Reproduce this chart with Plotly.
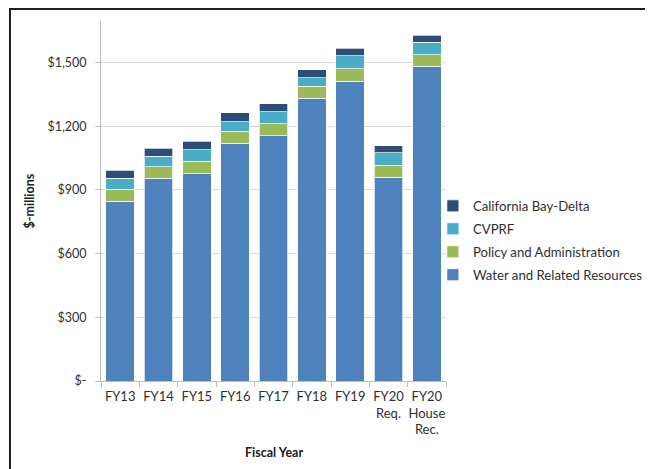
import plotly.graph_objects as go

categories = ["FY13", "FY14", "FY15", "FY16", "FY17", "FY18", "FY19", "FY20<br>Req.", "FY20<br>House<br>Rec."]
water = [846, 954, 977, 1119, 1155, 1332, 1411, 960, 1482]
policy = [56, 56, 57, 56, 56, 56, 60, 55, 55]
cvprf = [52, 48, 56, 47, 58, 41, 61, 60, 58]
baydelta = [38, 37, 38, 42, 36, 37, 36, 33, 34]
ytick_vals = [0, 300, 600, 900, 1200, 1500]
ytick_text = ["$-", "$300", "$600", "$900", "$1,200", "$1,500"]

series = [
    ("Water and Related Resources", water, "#4F81BD"),
    ("Policy and Administration", policy, "#9BBB59"),
    ("CVPRF", cvprf, "#4BACC6"),
    ("California Bay-Delta", baydelta, "#2C4D75"),
]

font = "Lato"
fig = go.Figure()
n = len(series)
for i, (name, vals, color) in enumerate(series):
    fig.add_trace(go.Bar(
        x=categories, y=vals, name=name, legendgroup="g%d" % i, legendrank=1000 + (n - i),
        marker=dict(color=color, line=dict(color="rgba(255,255,255,0.7)", width=1)),
    ))

fig.update_layout(
    barmode="stack",
    bargap=0.26,
    width=645, height=461,
    margin=dict(l=93, r=207, t=12, b=88, autoexpand=False),
    paper_bgcolor="white", plot_bgcolor="white",
    font=dict(family=font, size=12, color="#404040"),
    showlegend=True,
    legend=dict(traceorder="grouped", tracegroupgap=2.8, x=0.962, xanchor="left", y=0.527, yanchor="top",
                font=dict(size=13.2, color="#303030"), bgcolor="rgba(0,0,0,0)"),
    xaxis=dict(showline=True, linecolor="#BFBFBF", linewidth=1, ticks="outside",
               tickson="boundaries", ticklen=5, tickcolor="#BFBFBF", tickangle=0,
               tickfont=dict(size=13, color="#303030"), ticklabelstandoff=3),
    yaxis=dict(range=[0, 1700], tickvals=ytick_vals, ticktext=ytick_text,
               showline=True, linecolor="#BFBFBF", linewidth=1, ticks="outside",
               ticklen=5, tickcolor="#BFBFBF", gridcolor="#D9D9D9", gridwidth=1,
               tickfont=dict(size=12.5, color="#303030"), zeroline=False, ticklabelstandoff=6),
    annotations=[
        dict(text="<b>$-millions</b>", textangle=-90, x=-0.206, y=0.5, xref="paper", yref="paper",
             xanchor="center", yanchor="middle",
             showarrow=False, font=dict(size=12.5, color="#202020")),
        dict(text="<b>Fiscal Year</b>", x=0.5, y=-0.197, xref="paper", yref="paper",
             xanchor="center", yanchor="middle",
             showarrow=False, font=dict(size=12.5, color="#202020")),
    ],
    shapes=[
        dict(type="rect", xref="paper", yref="paper", x0=-0.2638, x1=1.65, y0=-0.3, y1=1.0305,
             line=dict(color="#202020", width=2), fillcolor="rgba(0,0,0,0)", layer="below"),
    ],
)

fig.write_html("out.html")
